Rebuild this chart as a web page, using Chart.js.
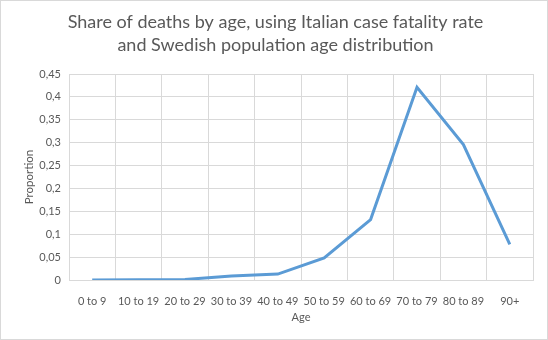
<!DOCTYPE html>
<html>
<head>
<meta charset="utf-8">
<script src="https://cdn.jsdelivr.net/npm/chart.js@4"></script>
<style>
	html, body { margin: 0; padding: 0; background: #fff; }
	.wrap { width: 548px; height: 340px; box-sizing: border-box; border: 1px solid #d9d9d9; }
</style>
</head>
<body>
<div class="wrap"><canvas id="myChart" width="546" height="338"></canvas></div>
<script>
const ageGroups = ["0 to 9", "10 to 19", "20 to 29", "30 to 39", "40 to 49", "50 to 59", "60 to 69", "70 to 79", "80 to 89", "90+"];
const shareOfDeaths = [0.0002, 0.0003, 0.001, 0.009, 0.013, 0.048, 0.132, 0.421, 0.296, 0.078];
const titleLines = ["Share of deaths by age, using Italian case fatality rate", "and Swedish population age distribution"];

const textColor = "#595959";
const gridColor = "#d9d9d9";
const fontFamily = "Lato, 'Open Sans', sans-serif";

const ctx = document.getElementById("myChart");

const myChart = new Chart(ctx, {
	type: "line",
	data: {
		labels: ageGroups,
		datasets: [
			{
				label: "Share of deaths",
				data: shareOfDeaths,
				borderColor: "#5b9bd5",
				borderWidth: 3,
				pointRadius: 0,
				tension: 0,
				fill: false,
			},
		],
	},
	options: {
		responsive: false,
		animation: false,
		layout: {
			padding: { left: 17, right: 14, top: 0, bottom: 11 },
		},
		plugins: {
			legend: { display: false },
			tooltip: { enabled: false },
			title: {
				display: true,
				text: titleLines,
				color: textColor,
				font: { family: fontFamily, size: 18, weight: "normal", lineHeight: 1.25 },
				padding: { top: 10, bottom: 18 },
			},
		},
		scales: {
			x: {
				offset: true,
				grid: { offset: true, color: gridColor, drawTicks: false },
				border: { color: gridColor },
				ticks: {
					color: textColor,
					font: { family: fontFamily, size: 11 },
					maxRotation: 0,
					autoSkip: false,
					padding: 15,
				},
				title: {
					display: true,
					text: "Age",
					color: textColor,
					font: { family: fontFamily, size: 11 },
					padding: { top: 2 },
				},
				afterFit: (scale) => {
					scale.height = 48;
				},
			},
			y: {
				min: 0,
				max: 0.45,
				grid: { color: gridColor, drawTicks: false },
				border: { display: false },
				ticks: {
					stepSize: 0.05,
					color: textColor,
					font: { family: fontFamily, size: 11 },
					padding: 8,
					callback: (value) => (Math.round(value * 100) / 100).toString().replace(".", ","),
				},
				title: {
					display: true,
					text: "Proportion",
					color: textColor,
					font: { family: fontFamily, size: 11.5 },
				},
				afterFit: (scale) => {
					scale.width = 51;
				},
			},
		},
	},
});
</script>
</body>
</html>
